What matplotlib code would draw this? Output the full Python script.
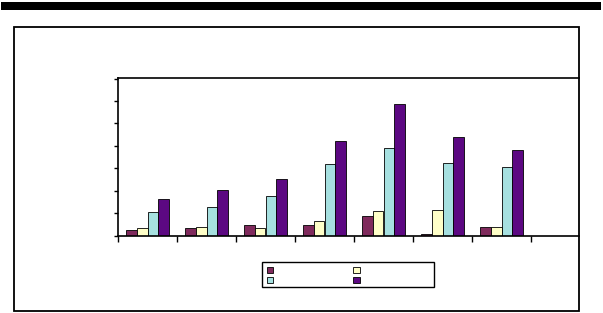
import numpy as np
import matplotlib.pyplot as plt
from matplotlib.patches import Rectangle, Patch

# values (no axis labels in the reference)
groups = np.arange(7)
series_a = [0.25, 0.34, 0.45, 0.45, 0.88, 0.08, 0.39]
series_b = [0.33, 0.39, 0.33, 0.64, 1.09, 1.13, 0.39]
series_c = [1.04, 1.28, 1.76, 3.19, 3.90, 3.23, 3.05]
series_d = [1.64, 2.04, 2.54, 4.23, 5.85, 4.41, 3.83]
colors = ['#7f2a5c', '#ffffc8', '#a6e0e0', '#5c0882']

W, H = 603, 313
fig = plt.figure(figsize=(W / 100, H / 100), dpi=100)

# thick bar on top
fig.add_artist(Rectangle((1 / W, 1 - 10 / H), 600 / W, 8 / H,
                         transform=fig.transFigure, color='black', lw=0))
# outer chart frame
fig.add_artist(Rectangle((14 / W, 1 - 311 / H), 565 / W, 284 / H,
                         transform=fig.transFigure, fill=False,
                         edgecolor='black', lw=1.3))
# legend frame
fig.add_artist(Rectangle((262 / W, 1 - 287 / H), 172 / W, 25 / H,
                         transform=fig.transFigure, fill=False,
                         edgecolor='black', lw=1.0))

ax = fig.add_axes([118 / W, (H - 235.5) / H, 461 / W, 157.5 / H])

bw = 0.182
x0 = groups + 0.5
data = [series_a, series_b, series_c, series_d]
for k, vals in enumerate(data):
    ax.bar(x0 + (k - 1.5) * bw, vals, width=bw, color=colors[k],
           edgecolor='black', linewidth=0.6)

ax.set_xlim(0, 461 / 59)
ax.set_ylim(0, 7.03)
ax.set_xticks(np.arange(8))
ax.set_yticks(np.arange(8))
ax.set_xticklabels([])
ax.set_yticklabels([])
ax.tick_params(axis='x', direction='out', length=4, width=1)
ax.tick_params(axis='y', direction='out', length=3, width=1)
ax.spines['right'].set_visible(False)
for s in ['left', 'top', 'bottom']:
    ax.spines[s].set_linewidth(1.2)

handles = [Patch(facecolor=colors[i], edgecolor='black', linewidth=0.6)
           for i in [0, 2, 1, 3]]
fig.legend(handles, ['', '', '', ''], ncol=2,
           bbox_to_anchor=(267 / W, 1 - 265.5 / H),
           loc='upper left', fontsize=6, frameon=False,
           handlelength=0.75, handleheight=0.72, labelspacing=0.12,
           borderpad=0, borderaxespad=0, handletextpad=0,
           columnspacing=9.6)

fig.savefig('out.png', dpi=100)
